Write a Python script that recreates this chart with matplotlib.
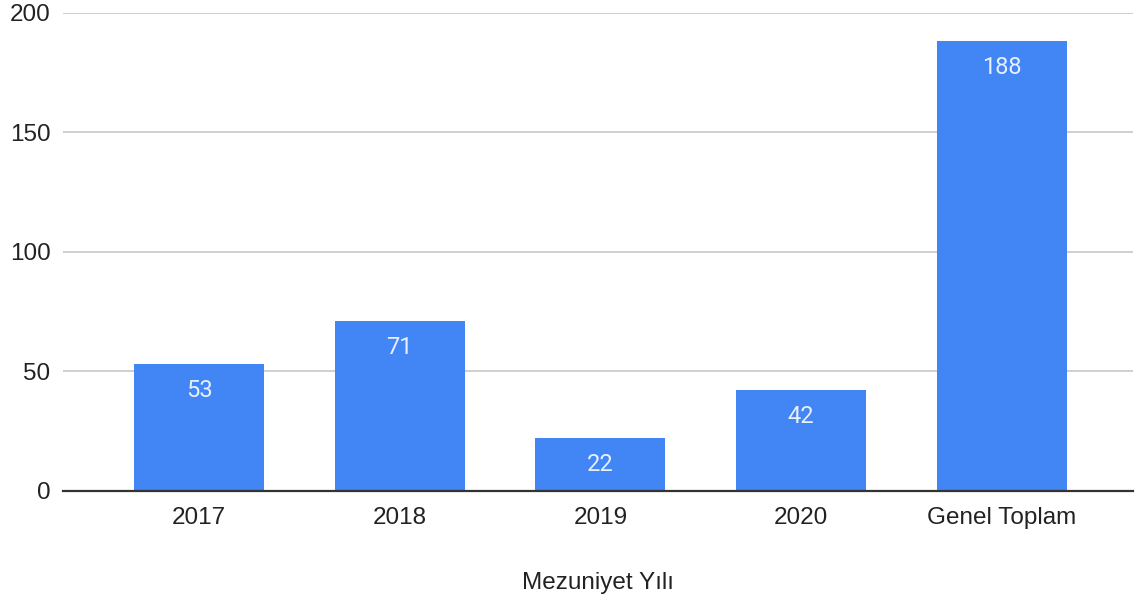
import matplotlib
matplotlib.use("Agg")
import matplotlib.pyplot as plt

categories = ["2017", "2018", "2019", "2020", "Genel Toplam"]
values = [53, 71, 22, 42, 188]
yticks = [0, 50, 100, 150, 200]
xlabel = "Mezuniyet Yılı"

plt.rcParams['font.family'] = ['Liberation Sans', 'DejaVu Sans']

fig = plt.figure(figsize=(11.35, 6), dpi=100)
ax = fig.add_axes([63/1135, (600-490.7)/600, 1070/1135, (490.7-12.7)/600])

x = list(range(len(categories)))
bars = ax.bar(x, values, width=0.648, color="#4285f4", zorder=3)

for xi, v in zip(x, values):
    ax.annotate(str(v), (xi, v), xytext=(0, -19), textcoords="offset points",
                ha="center", va="center", color="#e8f0fe", fontsize=17,
                family=["Roboto", "DejaVu Sans"], zorder=4)

ax.set_xlim(-0.678, 4.654)
ax.set_ylim(0, 200)
ax.set_yticks(yticks)
ax.set_xticks(x)
ax.set_xticklabels(categories)
ax.grid(axis="y", color="#cccccc", linewidth=1.3, zorder=0)
for s in ["top", "right", "left"]:
    ax.spines[s].set_visible(False)
ax.spines["bottom"].set_color("#333333")
ax.spines["bottom"].set_linewidth(1.6)
ax.spines["bottom"].set_zorder(5)
ax.tick_params(axis="both", length=0, labelsize=17.5, colors="#222222")
ax.tick_params(axis="y", pad=9)
ax.tick_params(axis="x", pad=12)
ax.set_xlabel(xlabel, fontsize=17.5, color="#222222", labelpad=31)

fig.savefig("out.png", dpi=100)
